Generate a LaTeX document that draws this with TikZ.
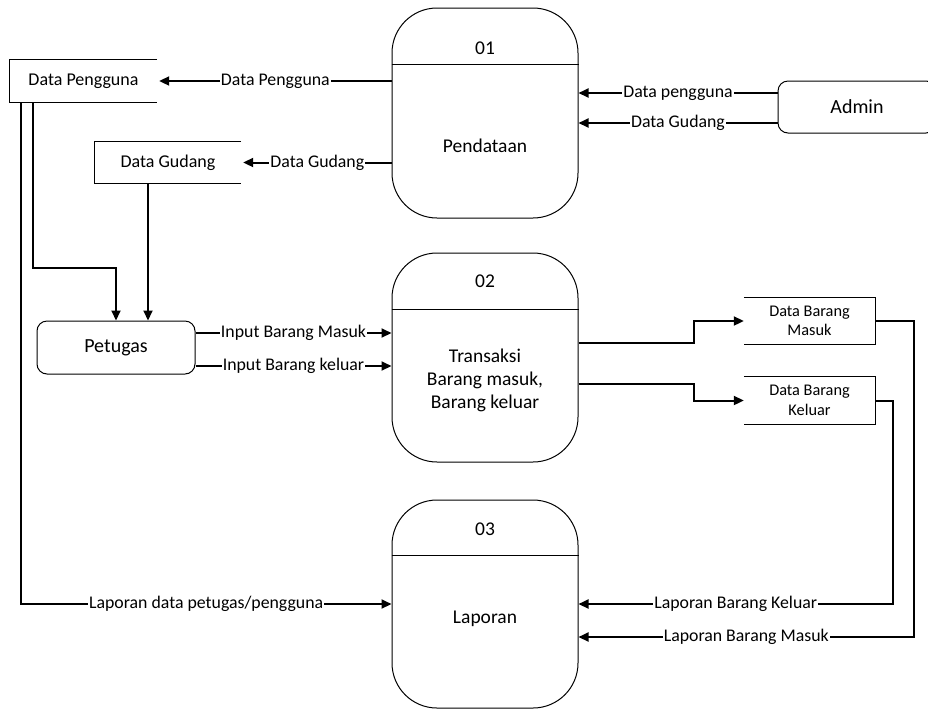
\documentclass[tikz,border=0pt]{standalone}
\usepackage{fontspec}
\setmainfont{Carlito}
\usetikzlibrary{arrows.meta}
\begin{document}
\begin{tikzpicture}[x=1pt,y=-1pt,
  proc/.style={draw, line width=1pt, rounded corners=45pt, minimum width=186pt, inner sep=0pt},
  ptxt/.style={font=\fontsize{19.5}{23}\selectfont, align=center, inner sep=0pt},
  ent/.style={draw, line width=1pt, rounded corners=10pt, inner sep=0pt, font=\fontsize{20}{24}\selectfont},
  dstxt/.style={inner sep=0pt, font=\fontsize{18}{22}\selectfont, align=center},
  dbtxt/.style={inner sep=0pt, font=\fontsize{16.3}{19.5}\selectfont, align=center},
  conn/.style={line width=2pt, -{Triangle[length=10pt,width=9pt]}},
  lbl/.style={fill=white, inner sep=1pt, font=\fontsize{17.8}{20}\selectfont},
  ds/.style={line width=1pt}
]
\useasboundingbox (0,0) rectangle (928,713);

% processes
\node[proc, minimum height=210pt] (p1) at (485,113) {};
\node[proc, minimum height=209pt] (p2) at (485,357.5) {};
\node[proc, minimum height=208pt] (p3) at (485,604) {};
\draw[ds] ([yshift=-57pt]p1.north west) -- ([yshift=-57pt]p1.north east);
\draw[ds] ([yshift=-57pt]p2.north west) -- ([yshift=-57pt]p2.north east);
\draw[ds] ([yshift=-56pt]p3.north west) -- ([yshift=-56pt]p3.north east);
\node[ptxt] (n1) at ([yshift=-41pt]p1.north) {01};
\node[ptxt] (n2) at ([yshift=-29pt]p2.north) {02};
\node[ptxt] (n3) at ([yshift=-30pt]p3.north) {03};
\node[ptxt] (t1) at (485,146) {Pendataan};
\node[ptxt] (t2) at (485,380) {Transaksi\\Barang masuk,\\Barang keluar};
\node[ptxt] (t3) at (485,619) {Laporan};

% entities
\node[ent, minimum width=158pt, minimum height=52pt] (ad) at (857,107) {Admin};
\node[ent, minimum width=158pt, minimum height=53pt] (pt) at (116,347.5) {Petugas};

% data stores
\node[dstxt, minimum width=147pt, minimum height=42pt] (dp) at (83.5,81) {Data Pengguna};
\draw[ds] (dp.north east) -- (dp.north west) -- (dp.south west) -- (dp.south east);
\node[dstxt, minimum width=146pt, minimum height=42pt] (dg) at (168,162.5) {Data Gudang};
\draw[ds] (dg.north east) -- (dg.north west) -- (dg.south west) -- (dg.south east);
\node[dbtxt, minimum width=131pt, minimum height=47pt] (dbm) at (809.5,321) {Data Barang\\Masuk};
\draw[ds] (dbm.north west) -- (dbm.north east) -- (dbm.south east) -- (dbm.south west);
\node[dbtxt, minimum width=131pt, minimum height=47pt] (dbk) at (809.5,400.5) {Data Barang\\Keluar};
\draw[ds] (dbk.north west) -- (dbk.north east) -- (dbk.south east) -- (dbk.south west);

% helper coordinates
\coordinate (a1) at ([yshift=14pt]ad.west);
\coordinate (a2) at ([yshift=-16pt]ad.west);
\coordinate (i1) at ([yshift=14.5pt]pt.east);
\coordinate (i2) at ([yshift=-18.5pt]pt.east);
\coordinate (o1) at ([yshift=14.5pt]p2.east);
\coordinate (o2) at ([yshift=-26.5pt]p2.east);
\coordinate (xb) at (694,0);
\coordinate (xr1) at (914,0);
\coordinate (xr2) at (893,0);
\coordinate (yb) at (0,637);
\coordinate (g1) at ([xshift=-20pt]dg.south);

% connectors
\draw[conn] (p1.west |- dp) -- node[lbl]{Data Pengguna} ([xshift=2pt]dp.east);
\draw[conn] (p1.west |- dg) -- node[lbl]{Data Gudang} ([xshift=2pt]dg.east);
\draw[conn] (a1) -- node[lbl]{Data pengguna} (p1.east |- a1);
\draw[conn] (a2) -- node[lbl]{Data Gudang} (p1.east |- a2);
\draw[conn] ([xshift=23pt]dp.south west) |- ([yshift=53pt]pt.north) -- (pt.north);
\draw[conn] (g1) -- (g1 |- pt.north);
\draw[conn] ([xshift=11pt]dp.south west) |- node[lbl, pos=0.75]{Laporan data petugas/pengguna} (p3.west);
\draw[conn] (i1) -- node[lbl]{Input Barang Masuk} (p2.west |- i1);
\draw[conn] (i2) -- node[lbl]{Input Barang keluar} (p2.west |- i2);
\draw[conn] (o1) -- (o1 -| xb) |- (dbm.west);
\draw[conn] (o2) -- (o2 -| xb) |- (dbk.west);
\draw[conn] (dbm.east) -- (dbm.east -| xr1) |- node[lbl, pos=0.75]{Laporan Barang Masuk} (p3.east |- yb);
\draw[conn] (dbk.east) -- (dbk.east -| xr2) |- node[lbl, pos=0.75]{Laporan Barang Keluar} (p3.east);
\end{tikzpicture}
\end{document}
